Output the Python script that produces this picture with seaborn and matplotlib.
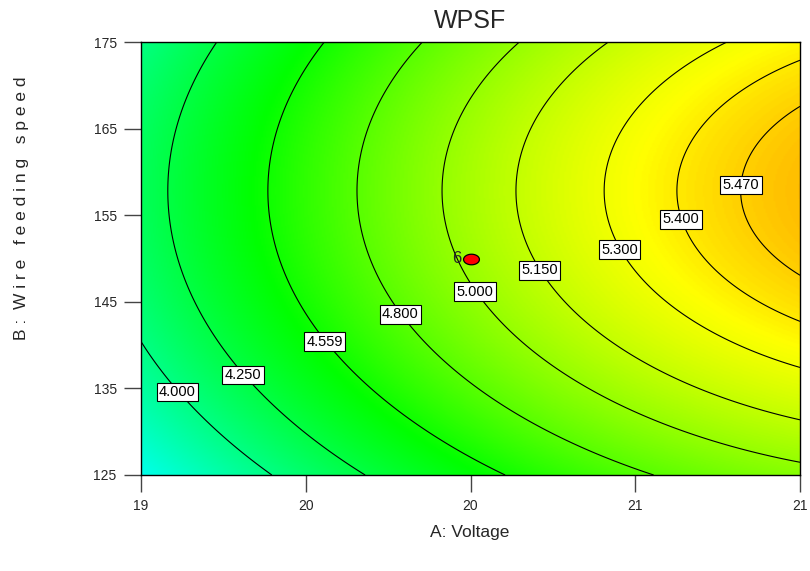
import numpy as np
import matplotlib
matplotlib.use("Agg")
import matplotlib.pyplot as plt
from matplotlib.colors import LinearSegmentedColormap
from matplotlib.path import Path
import pandas as pd
import seaborn as sns

# Factor ranges (actual units)
voltage_range = [19.0, 21.0]
speed_range = [125.0, 175.0]

# Quadratic model for WPSF in coded units: b0, A, B, AB, A^2, B^2
model_coef = [5.028, 0.68, 0.207, 0.0, -0.22, -0.331]

# Contour levels shown on the plot
contour_levels = [4.000, 4.250, 4.559, 4.800, 5.000, 5.150, 5.300, 5.400, 5.470]

# Design point (centre point with replicates)
design_A = [20.0]
design_B = [150.0]
design_reps = [6]

# Axis ticks
x_tick_values = [19.0, 19.5, 20.0, 20.5, 21.0]
x_tick_labels = ["19", "20", "20", "21", "21"]
y_tick_values = [125, 135, 145, 155, 165, 175]

# Where each contour label sits (A, B)
label_spots = [(19.10, 134.4), (19.30, 136.4), (19.555, 140.5), (19.765, 143.1),
               (20.00, 146.0), (20.217, 149.0), (20.457, 151.3), (20.639, 154.7),
               (20.839, 158.6)]

sns.set_theme(style="white")
narrow = ["Liberation Sans Narrow", "Liberation Sans", "DejaVu Sans"]
plain = ["Liberation Sans", "DejaVu Sans"]
plt.rcParams["font.family"] = plain


def wpsf(a, b):
    x = (a - 20.0) / 1.0
    y = (b - 150.0) / 25.0
    b0, bA, bB, bAB, bAA, bBB = model_coef
    return b0 + bA * x + bB * y + bAB * x * y + bAA * x ** 2 + bBB * y ** 2


a_grid = np.linspace(voltage_range[0], voltage_range[1], 400)
b_grid = np.linspace(speed_range[0], speed_range[1], 400)
AA, BB = np.meshgrid(a_grid, b_grid)
Z = wpsf(AA, BB)

vmin, vmax = 3.51, 6.02
def frac(v):
    return (v - vmin) / (vmax - vmin)
cmap = LinearSegmentedColormap.from_list(
    "de", [(0.0, "#00ffff"), (frac(4.51), "#00ff00"),
           (frac(5.35), "#ffff00"), (1.0, "#ff0000")])

fig = plt.figure(figsize=(8.10, 5.71), dpi=100)
ax = fig.add_axes([141 / 810, 1 - 475 / 571, 659 / 810, 433 / 571])

ax.imshow(Z, origin="lower", aspect="auto", cmap=cmap, vmin=vmin, vmax=vmax,
          extent=[voltage_range[0], voltage_range[1], speed_range[0], speed_range[1]],
          interpolation="bilinear")
cs = ax.contour(AA, BB, Z, levels=contour_levels, colors="black", linewidths=0.8)
labels = ax.clabel(cs, inline=False, fmt="%.3f", manual=label_spots, fontsize=10.5)
for t in labels:
    t.set_rotation(0)
    t.set_family(plain)
    t.set_verticalalignment("center_baseline")
    t.set_bbox(dict(boxstyle="square,pad=0.16", facecolor="white",
                    edgecolor="black", linewidth=0.8))
    t.set_zorder(5)

# Design point drawn as an ellipse-shaped marker
theta = np.linspace(0, 2 * np.pi, 60)
ell = np.column_stack([np.cos(theta) * 1.5, np.sin(theta)])
design_df = pd.DataFrame({"A": design_A, "B": design_B, "n": design_reps})
sns.scatterplot(data=design_df, x="A", y="B", ax=ax, marker=Path(ell), s=130,
                color="#ff0000", edgecolor="black", linewidth=0.9, zorder=6,
                legend=False)
for a, b, n in zip(design_A, design_B, design_reps):
    ax.text(a - 0.028, b, str(n), ha="right", va="center", fontsize=12,
            family=plain, zorder=7)

ax.set_xlim(voltage_range)
ax.set_ylim(speed_range)
ax.set_xticks(x_tick_values)
ax.set_xticklabels(x_tick_labels)
ax.set_yticks(y_tick_values)
ax.set_xlabel("")
ax.set_ylabel("")
ax.tick_params(axis="both", which="both", direction="out", length=12.5, width=1,
               color="#444444", labelsize=10, pad=5, bottom=True, left=True)
for lab in ax.get_xticklabels() + ax.get_yticklabels():
    lab.set_family(narrow)
for sp in ax.spines.values():
    sp.set_visible(True)
    sp.set_color("black")
    sp.set_linewidth(1.0)

fig.text(470 / 810, 1 - 21 / 571, "WPSF", ha="center", va="center", fontsize=18)
fig.text(470 / 810, 1 - 533 / 571, "A: Voltage", ha="center", va="center",
         fontsize=12.5, family=narrow)
fig.text(22 / 810, 1 - 208 / 571, "B :  W i r e   f e e d i n g   s p e e d",
         ha="center", va="center", rotation=90, fontsize=12.5)

fig.savefig("out.png", dpi=100)
